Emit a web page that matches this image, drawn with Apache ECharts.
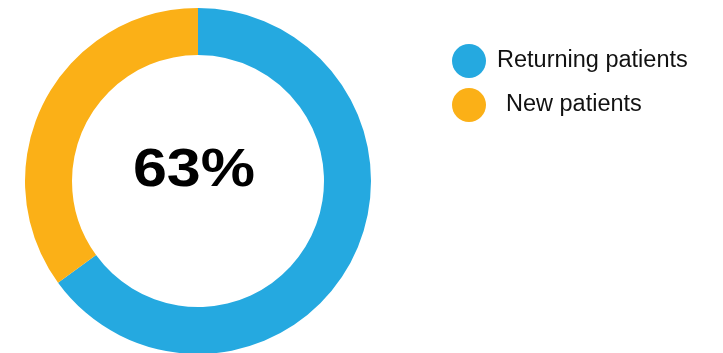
<!DOCTYPE html>
<html>
<head>
<meta charset="utf-8">
<script src="https://cdn.jsdelivr.net/npm/echarts@6/dist/echarts.min.js"></script>
<style>
html,body{margin:0;padding:0;background:#fff;}
#c{width:723px;height:353px;}
</style>
</head>
<body>
<div id="c"></div>
<script>
const categories = ['Returning patients', 'New patients'];
const values = [65, 35];
const colors = ['#25A9E0', '#FBB017'];
const centerLabel = '63%';

const chart = echarts.init(document.getElementById('c'), null, {renderer: 'canvas'});
chart.setOption({
  animation: false,
  backgroundColor: '#ffffff',
  color: colors,
  legend: {
    orient: 'vertical',
    left: 452,
    top: 44,
    padding: 0,
    icon: 'circle',
    itemWidth: 46,
    itemHeight: 34,
    itemGap: 10,
    textStyle: {fontFamily: 'Liberation Sans, Arial, sans-serif', fontSize: 23.5, color: '#111'},
    data: [
      {name: categories[0]},
      {name: categories[1], textStyle: {padding: [0, 0, 0, 9]}}
    ]
  },
  graphic: [{
    type: 'text',
    x: 194,
    y: 171,
    scaleX: 1.13,
    style: {
      text: centerLabel,
      font: 'bold 54px "Liberation Sans", Arial, sans-serif',
      fill: '#000',
      textAlign: 'center',
      textVerticalAlign: 'middle'
    }
  }],
  series: [{
    type: 'pie',
    center: [198, 181],
    radius: [126, 173],
    startAngle: 90,
    clockwise: true,
    label: {show: false},
    labelLine: {show: false},
    emphasis: {scale: false},
    itemStyle: {borderWidth: 0},
    data: categories.map((n, i) => ({name: n, value: values[i]}))
  }]
});
</script>
</body>
</html>
